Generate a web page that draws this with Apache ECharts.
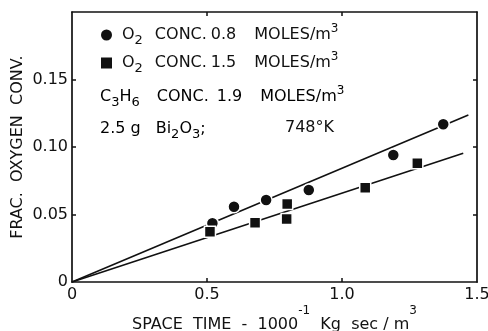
<!DOCTYPE html>
<html>
<head>
<meta charset="utf-8">
<script src="https://cdn.jsdelivr.net/npm/echarts@6/dist/echarts.min.js"></script>
<style>
  html, body { margin: 0; padding: 0; background: #fff; }
  #chart { width: 488px; height: 331px; }
</style>
</head>
<body>
<div id="chart"></div>
<script>
// Fractional oxygen conversion against space time (1000^-1 kg s / m^3)
const o2LowX  = [0.520, 0.600, 0.719, 0.877, 1.190, 1.375];
const o2LowY  = [0.0435, 0.0558, 0.0607, 0.0681, 0.0941, 0.1168];
const o2HighX = [0.511, 0.678, 0.795, 0.797, 1.086, 1.279];
const o2HighY = [0.0373, 0.0439, 0.0467, 0.0578, 0.0699, 0.0879];

// straight lines drawn through the origin (end points)
const o2LowFitX  = [0, 1.468];
const o2LowFitY  = [0, 0.1237];
const o2HighFitX = [0, 1.449];
const o2HighFitY = [0, 0.0953];

const xTicks = [0, 0.5, 1.0, 1.5];
const yTicks = [0, 0.05, 0.10, 0.15];
const xLabels = ['0', '0.5', '1.0', '1.5'];
const yLabels = ['0', '0.05', '0.10', '0.15'];

const seriesNames = ['O2 CONC. 0.8 MOLES/m3', 'O2 CONC. 1.5 MOLES/m3'];
const legendRich = [
  '{o|O}{sub|2}{a|CONC.}{b|0.8}{c|MOLES/m}{sup|3}',
  '{o|O}{sub|2}{a|CONC.}{b|1.5}{c|MOLES/m}{sup|3}'
];
const noteLine1 = '{m|C}{sub|3}{m|H}{sub|6}{a2|CONC.}{b2|1.9}{c2|MOLES/m}{sup|3}';
const noteLine2 = '{m|2.5 g}{a3|Bi}{sub|2}{m|O}{sub|3}{m|;}';
const noteTemp = '748°K';

const FONT = 'DejaVu Sans';
const INK = '#111';

function main(extra) {
  return Object.assign({ fontFamily: FONT, fontSize: 16, lineHeight: 24, color: INK }, extra || {});
}
const textRich = {
  m: main(),
  o: main({ padding: [0, 0, 0, 5] }),
  a: main({ padding: [0, 0, 0, 12] }),
  b: main({ padding: [0, 0, 0, 4] }),
  c: main({ padding: [0, 0, 0, 18] }),
  a2: main({ padding: [0, 0, 0, 17] }),
  b2: main({ padding: [0, 0, 0, 8] }),
  c2: main({ padding: [0, 0, 0, 18] }),
  a3: main({ padding: [0, 0, 0, 15] }),
  sub: { fontFamily: FONT, fontSize: 13, lineHeight: 14, verticalAlign: 'bottom', color: INK },
  sup: { fontFamily: FONT, fontSize: 12, lineHeight: 12, verticalAlign: 'top', color: INK }
};

const pairs = (xs, ys) => xs.map((x, i) => [x, ys[i]]);
const fmtLabel = (vals, labels) => v => {
  const i = vals.findIndex(t => Math.abs(t - Number(v)) < 1e-9);
  return i < 0 ? '' : labels[i];
};

const axisLine = { show: true, onZero: false, lineStyle: { color: INK, width: 1.7 } };
const tick = vals => ({ show: true, inside: true, length: 4, customValues: vals,
  lineStyle: { color: INK, width: 1.5 } });
const labelStyle = { fontFamily: FONT, fontSize: 16, color: INK };

const chart = echarts.init(document.getElementById('chart'));
chart.setOption({
  animation: false,
  backgroundColor: '#fff',
  grid: { left: 72, right: 11, top: 12, bottom: 49, containLabel: false, outerBoundsMode: 'none' },
  xAxis: [
    {
      type: 'value', min: 0, max: 1.5, interval: 0.5, position: 'bottom',
      name: '{t|SPACE  TIME  -  1000}{sup|-1}{t|  Kg  sec / m}{sup|3}',
      nameLocation: 'middle', nameGap: 23, nameMoveOverlap: false,
      nameTextStyle: {
        rich: {
          t: { fontFamily: FONT, fontSize: 16, lineHeight: 40, color: INK },
          sup: { fontFamily: FONT, fontSize: 12, lineHeight: 12, verticalAlign: 'top', color: INK }
        }
      },
      axisLine: axisLine,
      axisTick: tick(xTicks.slice(1, -1)),
      axisLabel: Object.assign({ margin: 5, formatter: fmtLabel(xTicks, xLabels) }, labelStyle),
      splitLine: { show: false }
    },
    {
      type: 'value', min: 0, max: 1.5, interval: 0.5, position: 'top',
      axisLine: axisLine,
      axisTick: tick(xTicks.slice(1, -1)),
      axisLabel: { show: false },
      splitLine: { show: false }
    }
  ],
  yAxis: [
    {
      type: 'value', min: 0, max: 0.2, interval: 0.05, position: 'left',
      name: 'FRAC.  OXYGEN  CONV.',
      nameLocation: 'middle', nameGap: 46, nameMoveOverlap: false,
      nameTextStyle: { fontFamily: FONT, fontSize: 16, color: INK },
      axisLine: axisLine,
      axisTick: tick(yTicks.slice(1)),
      axisLabel: Object.assign({ margin: 4, showMaxLabel: false,
        formatter: fmtLabel(yTicks, yLabels) }, labelStyle),
      splitLine: { show: false }
    },
    {
      type: 'value', min: 0, max: 0.2, interval: 0.05, position: 'right',
      axisLine: axisLine,
      axisTick: tick(yTicks.slice(1)),
      axisLabel: { show: false },
      splitLine: { show: false }
    }
  ],
  legend: {
    orient: 'vertical', left: 101, top: 23, padding: 0, itemGap: 4,
    itemWidth: 11, itemHeight: 11, selectedMode: false,
    itemStyle: { borderWidth: 0 },
    data: [
      { name: seriesNames[0], icon: 'circle' },
      { name: seriesNames[1], icon: 'rect' }
    ],
    formatter: name => legendRich[seriesNames.indexOf(name)],
    textStyle: { rich: textRich }
  },
  graphic: [
    { type: 'text', x: 100, y: 97, silent: true,
      style: { text: noteLine1, rich: textRich, verticalAlign: 'middle', align: 'left' } },
    { type: 'text', x: 100, y: 129, silent: true,
      style: { text: noteLine2, rich: textRich, verticalAlign: 'middle', align: 'left' } },
    { type: 'text', x: 285, y: 128, silent: true,
      style: { text: noteTemp, fontFamily: FONT, fontSize: 16, fill: INK,
        verticalAlign: 'middle', align: 'left' } }
  ],
  series: [
    {
      type: 'line', data: pairs(o2LowFitX, o2LowFitY), symbol: 'none', silent: true,
      lineStyle: { color: INK, width: 1.6 }, z: 2
    },
    {
      type: 'line', data: pairs(o2HighFitX, o2HighFitY), symbol: 'none', silent: true,
      lineStyle: { color: INK, width: 1.6 }, z: 2
    },
    {
      name: seriesNames[0], type: 'scatter', data: pairs(o2LowX, o2LowY),
      symbol: 'circle', symbolSize: 12, z: 3,
      itemStyle: { color: INK, borderColor: '#fff', borderWidth: 1.5, opacity: 1 }
    },
    {
      name: seriesNames[1], type: 'scatter', data: pairs(o2HighX, o2HighY),
      symbol: 'rect', symbolSize: 11, z: 3,
      itemStyle: { color: INK, borderColor: '#fff', borderWidth: 1.5, opacity: 1 }
    }
  ]
});
</script>
</body>
</html>
